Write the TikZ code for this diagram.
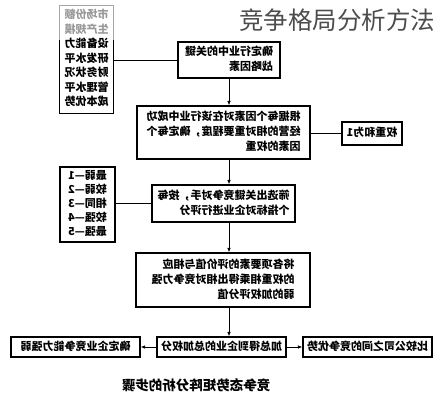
\documentclass[tikz,border=0pt]{standalone}
\usepackage{fontspec}
\usepackage{graphicx}
\setmainfont{Noto Sans CJK SC}
\usetikzlibrary{arrows.meta}
\newcommand{\mir}[1]{\reflectbox{\begin{tabular}{@{}l@{}}#1\end{tabular}}}
\begin{document}
\begin{tikzpicture}[x=1pt,y=-1pt,
  boxst/.style={draw, line width=1.1pt, inner sep=0pt, font=\fontsize{11}{15}\selectfont\bfseries},
  plain/.style={inner sep=0pt, font=\fontsize{11}{14.5}\selectfont\bfseries},
  conn/.style={line width=0.9pt},
  arr/.style={line width=0.9pt,-{Latex[length=4.5pt,width=3.5pt]}}]
\useasboundingbox (0,0) rectangle (442,400);
% title
\node[font=\fontsize{24.5}{25}\selectfont, text=black!70, inner sep=0pt] (title) at (337,20) {竞争格局分析方法};
% top-left list
\node[plain, minimum width=53pt, minimum height=107pt] (l1) at (86.5,59.5)
  {\mir{\textcolor{black!40}{市场份额}\\\textcolor{black!40}{生产规模}\\设备能力\\研发水平\\财务状况\\管理水平\\成本优势}};
\draw[line width=1.1pt, black!35] (l1.west |- 0,40) -- (l1.north west) -- (l1.north east) -- (l1.east |- 0,40);
\draw[line width=1.1pt] (l1.west |- 0,40) -- (l1.south west) -- (l1.south east) -- (l1.east |- 0,40);
% main boxes
\node[boxst, minimum width=102pt, minimum height=36pt] (b1) at (229,60) {\mir{确定行业中的关键\\战略因素}};
\node[boxst, minimum width=173pt, minimum height=53pt] (b2) at (223.5,132.5) {\mir{根据每个因素对在该行业中成功\\经营的相对重要程度，确定每个\\因素的权重}};
\node[boxst, minimum width=60pt, minimum height=23pt] (r1) at (372,133.5) {\mir{权重和为1}};
\node[boxst, minimum width=55pt, minimum height=75pt, font=\fontsize{11}{14}\selectfont\bfseries] (l2) at (87.5,204.5) {\mir{最弱—1\\较弱—2\\相同—3\\较强—4\\最强—5}};
\node[boxst, minimum width=143pt, minimum height=37pt] (b3) at (223.5,203.5) {\mir{筛选出关键竞争对手，按每\\个指标对企业进行评分}};
\node[boxst, minimum width=174pt, minimum height=54pt] (b4) at (223,280) {\mir{将各项要素的评价值与相应\\的权重相乘得出相对竞争力强\\弱的加权评分值}};
\node[boxst, minimum width=129pt, minimum height=20pt] (m) at (221.5,347) {\mir{加总得到企业的总加权分}};
\node[boxst, minimum width=129pt, minimum height=20pt] (bl) at (75.5,347) {\mir{确定企业竞争能力强弱}};
\node[boxst, minimum width=129pt, minimum height=20pt] (br) at (367.5,347) {\mir{比较公司之间的竞争优势}};
% caption
\node[font=\fontsize{13.5}{14}\selectfont\bfseries, inner sep=0pt] (cap) at (196,385) {\reflectbox{竞争态势矩阵分析的步骤}};
% connectors
\draw[conn] (l1.east |- b1.west) -- (b1.west);
\draw[conn] (b2.east |- r1.west) -- (r1.west);
\draw[conn] (l2.east |- b3.west) -- (b3.west);
\draw[arr] (b1.south) -- (b1.south |- b2.north);
\draw[arr] (b1.south |- b2.south) -- (b1.south |- b3.north);
\draw[arr] (b1.south |- b3.south) -- (b1.south |- b4.north);
\draw[arr] (b1.south |- b4.south) -- (b1.south |- m.north);
\draw[arr] (m.west) -- (bl.east);
\draw[arr] (m.east) -- (br.west);
\end{tikzpicture}
\end{document}
